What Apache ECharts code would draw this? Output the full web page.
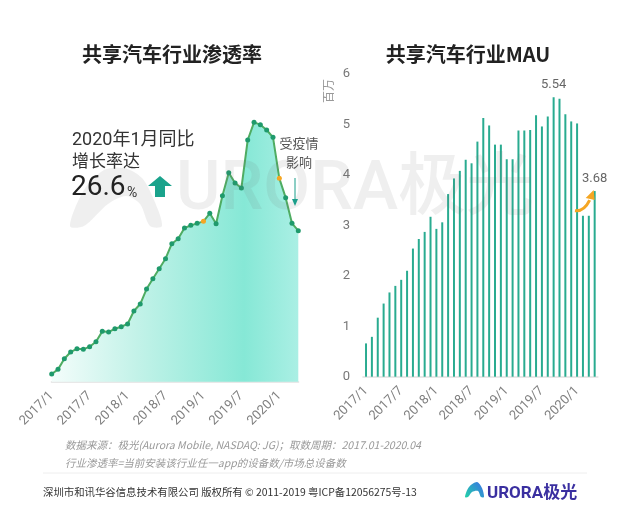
<!DOCTYPE html>
<html>
<head>
<meta charset="utf-8">
<script src="https://cdn.jsdelivr.net/npm/echarts@6/dist/echarts.min.js"></script>
<style>
html,body{margin:0;padding:0;background:#fff;}
#c{width:620px;height:521px;}
</style>
</head>
<body>
<div id="c"></div>
<script>
const months = ['2017/1','2017/2','2017/3','2017/4','2017/5','2017/6','2017/7','2017/8','2017/9','2017/10','2017/11','2017/12',
  '2018/1','2018/2','2018/3','2018/4','2018/5','2018/6','2018/7','2018/8','2018/9','2018/10','2018/11','2018/12',
  '2019/1','2019/2','2019/3','2019/4','2019/5','2019/6','2019/7','2019/8','2019/9','2019/10','2019/11','2019/12',
  '2020/1','2020/2','2020/3','2020/4'];
const penetration = [0.23,0.37,0.69,0.89,0.99,0.97,1.05,1.20,1.51,1.49,1.59,1.65,
  1.73,2.12,2.33,2.78,3.09,3.39,3.69,4.14,4.29,4.61,4.69,4.75,
  4.81,5.05,4.74,5.58,6.27,5.96,5.81,7.25,7.78,7.71,7.55,7.33,
  6.10,5.52,4.75,4.53];
const mau = [0.66,0.79,1.17,1.45,1.67,1.80,1.92,2.10,2.54,2.73,2.87,3.17,
  2.93,3.06,3.62,3.93,4.08,4.30,4.23,4.66,5.13,4.98,4.60,4.60,
  4.31,4.31,4.88,4.88,4.89,5.18,4.96,5.16,5.54,5.51,5.20,5.06,
  5.02,3.19,3.19,3.68];
const highlightMonths = ['2019/1','2020/1'];
const labelledMonths = ['2019/9','2020/4'];

const FONT = "Roboto, 'Noto Sans CJK SC', sans-serif";
const chart = echarts.init(document.getElementById('c'));

const lineData = penetration.map((v, i) => highlightMonths.includes(months[i])
  ? {value: v, itemStyle: {color: '#f5a623'}} : v);
const barData = mau.map((v, i) => labelledMonths.includes(months[i])
  ? {value: v, label: {show: true, position: 'top', distance: 6, color: '#666', fontSize: 13, fontFamily: FONT, formatter: p => p.value.toFixed(2)}} : v);

const axisLabelCommon = {color: '#808080', fontSize: 13, fontFamily: FONT, rotate: 45, interval: 5, margin: 12};

chart.setOption({
  animation: false,
  textStyle: {fontFamily: FONT},
  grid: [
    {left: 51.7, right: 321.7, top: 115, bottom: 139.3},
    {left: 363.1, right: 22.4, top: 74, bottom: 144.3}
  ],
  xAxis: [
    {type: 'category', gridIndex: 0, data: months, boundaryGap: false,
     axisLine: {lineStyle: {color: '#e8e8e8', width: 2}}, axisTick: {show: false},
     axisLabel: axisLabelCommon},
    {type: 'category', gridIndex: 1, data: months, boundaryGap: true,
     axisLine: {lineStyle: {color: '#e8e8e8', width: 2}}, axisTick: {show: false},
     axisLabel: axisLabelCommon}
  ],
  yAxis: [
    {type: 'value', gridIndex: 0, min: 0, max: 8, show: false, splitLine: {show: false}},
    {type: 'value', gridIndex: 1, min: 0, max: 6, interval: 1,
     axisLine: {show: false}, axisTick: {show: false}, splitLine: {show: false},
     axisLabel: {color: '#777', fontSize: 13, fontFamily: FONT, margin: 13}}
  ],
  series: [
    {type: 'line', xAxisIndex: 0, yAxisIndex: 0, data: lineData,
     symbol: 'circle', symbolSize: 5, showSymbol: true, showAllSymbol: true,
     lineStyle: {color: '#4fac62', width: 2},
     itemStyle: {color: '#1f9a6c'},
     areaStyle: {opacity: 1, color: new echarts.graphic.LinearGradient(0, 0, 1, 0, [
       {offset: 0, color: '#f4fdfb'},
       {offset: 0.35, color: '#c2f2e8'},
       {offset: 0.78, color: '#86e8d6'},
       {offset: 1, color: '#aaefe4'}
     ])},
     z: 3},
    {type: 'bar', xAxisIndex: 1, yAxisIndex: 1, data: barData, barWidth: 2,
     itemStyle: {color: '#29ab90'}, z: 3}
  ]
});

// decorations
const pA = chart.convertToPixel({gridIndex: 1}, [37, mau[37]]);
const pB = chart.convertToPixel({gridIndex: 1}, [39, mau[39]]);
const sx = pA[0] - 8, sy = pA[1] - 5;
const ex = pB[0] - 2, ey = pB[1] + 6;

chart.setOption({
  graphic: [
    // watermark
    {type: 'polygon', z: 20, silent: true,
     shape: {points: [[70, 226], [84, 190], [104, 170], [124, 168], [142, 178], [154, 200], [162, 226], [150, 226], [140, 204], [126, 196], [108, 204], [84, 226]], smooth: 0.3},
     style: {fill: 'rgba(110,110,110,0.11)'}},
    {type: 'text', z: 20, silent: true, left: 176, top: 158,
     style: {text: 'URORA极光', fill: 'rgba(110,110,110,0.11)', font: "500 68px Roboto, 'Noto Sans CJK SC', sans-serif"}},
    // titles
    {type: 'text', position: [172, 54], style: {text: '共享汽车行业渗透率', x: 0, y: 0, align: 'center', verticalAlign: 'middle', fill: '#222', font: "bold 20px 'Noto Sans CJK SC', sans-serif"}},
    {type: 'text', position: [468, 54], style: {text: '共享汽车行业MAU', x: 0, y: 0, align: 'center', verticalAlign: 'middle', fill: '#222', font: "bold 20px 'Noto Sans CJK SC', sans-serif"}},
    // y axis name
    {type: 'text', position: [328, 91], rotation: Math.PI / 2, style: {text: '百万', x: 0, y: 0, align: 'center', verticalAlign: 'middle', fill: '#999', font: "12px 'Noto Sans CJK SC', sans-serif"}},
    // annotation left
    {type: 'text', z: 30, position: [72, 140], style: {text: '2020年1月同比', x: 0, y: 0, align: 'left', verticalAlign: 'middle', fill: '#333', font: "18px Roboto, 'Noto Sans CJK SC', sans-serif"}},
    {type: 'text', z: 30, position: [72, 161], style: {text: '增长率达', x: 0, y: 0, align: 'left', verticalAlign: 'middle', fill: '#333', font: "17px 'Noto Sans CJK SC', sans-serif"}},
    {type: 'text', z: 30, position: [71, 188], style: {text: '26.6', x: 0, y: 0, align: 'left', verticalAlign: 'middle', fill: '#222', font: "28px Roboto, sans-serif"}},
    {type: 'text', z: 30, position: [127, 193], style: {text: '%', x: 0, y: 0, align: 'left', verticalAlign: 'middle', fill: '#333', font: "14px Roboto, sans-serif"}},
    {type: 'polygon', z: 30, shape: {points: [[160, 176], [172, 186], [165, 186], [165, 197], [155, 197], [155, 186], [148, 186]]}, style: {fill: '#1aa38c'}},
    // covid annotation
    {type: 'text', z: 30, position: [299, 143], style: {text: '受疫情', x: 0, y: 0, align: 'center', verticalAlign: 'middle', fill: '#555', font: "13px 'Noto Sans CJK SC', sans-serif"}},
    {type: 'text', z: 30, position: [299, 162], style: {text: '影响', x: 0, y: 0, align: 'center', verticalAlign: 'middle', fill: '#555', font: "13px 'Noto Sans CJK SC', sans-serif"}},
    {type: 'line', z: 30, shape: {x1: 295, y1: 178, x2: 295, y2: 203}, style: {stroke: '#1a9e8a', lineWidth: 1}},
    {type: 'polygon', z: 30, shape: {points: [[292, 199], [298, 199], [295, 206]]}, style: {fill: '#1a9e8a'}},
    // orange arrow right
    {type: 'bezierCurve', z: 30, shape: {x1: sx, y1: sy, cpx1: sx + 9, cpy1: sy + 1, x2: ex - 3, y2: ey + 3}, style: {stroke: '#f5a623', lineWidth: 3, fill: null}},
    {type: 'polygon', z: 30, shape: {points: [[ex + 1, ey - 7], [ex + 2, ey + 3], [ex - 7, ey + 1]]}, style: {fill: '#f5a623'}},
    // notes
    {type: 'text', position: [65, 445], style: {text: '数据来源：极光(Aurora Mobile, NASDAQ: JG)；取数周期：2017.01-2020.04', x: 0, y: 0, verticalAlign: 'middle', fill: '#999', font: "italic 10.5px 'Noto Sans CJK SC', sans-serif"}},
    {type: 'text', position: [65, 463], style: {text: '行业渗透率=当前安装该行业任一app的设备数/市场总设备数', x: 0, y: 0, verticalAlign: 'middle', fill: '#999', font: "italic 10.5px 'Noto Sans CJK SC', sans-serif"}},
    {type: 'line', shape: {x1: 43, y1: 473, x2: 587, y2: 473}, style: {stroke: '#eeeeee', lineWidth: 1}},
    {type: 'text', position: [43, 492], style: {text: '深圳市和讯华谷信息技术有限公司 版权所有 © 2011-2019 粤ICP备12056275号-13', x: 0, y: 0, verticalAlign: 'middle', fill: '#333', font: "10.4px 'Noto Sans CJK SC', sans-serif"}},
    // footer logo
    {type: 'polygon', shape: {points: [[465, 497], [469, 487], [477, 482], [482, 488], [484, 497], [481, 497], [478, 491], [472, 492], [468, 497]], smooth: 0.3},
     style: {fill: new echarts.graphic.LinearGradient(0, 1, 1, 0, [{offset: 0, color: '#22d3a8'}, {offset: 1, color: '#3b6ee8'}])}},
    {type: 'text', position: [487, 494], style: {text: 'URORA极光', x: 0, y: 0, verticalAlign: 'middle', fill: '#3a2fa0', font: "bold 17px Roboto, 'Noto Sans CJK SC', sans-serif"}}
  ]
});
</script>
</body>
</html>
